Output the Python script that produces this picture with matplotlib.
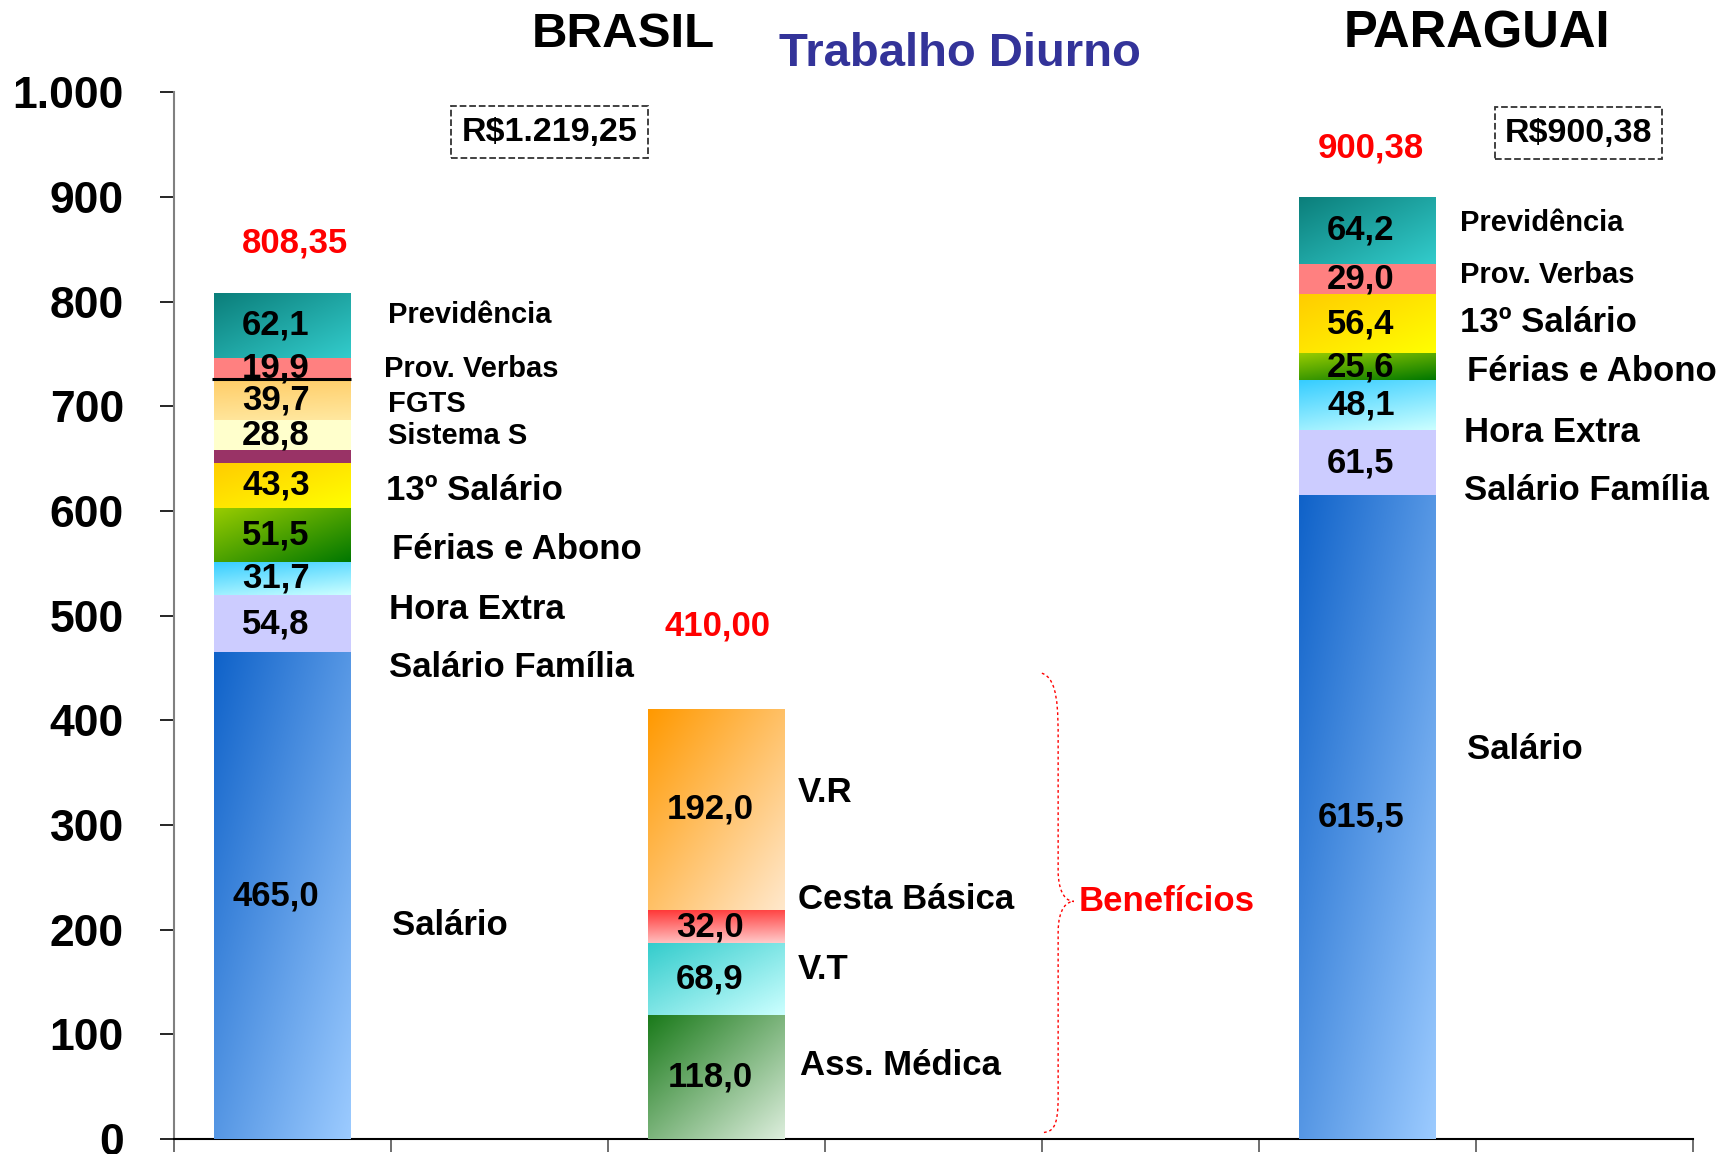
import numpy as np
import matplotlib
matplotlib.use('Agg')
import matplotlib.pyplot as plt
from matplotlib.path import Path
from matplotlib.patches import PathPatch
from matplotlib.colors import to_rgb
from matplotlib.ticker import FuncFormatter

plt.rcParams['font.family'] = ['Liberation Sans', 'DejaVu Sans']

# ---- data ----
brasil_items = ['Salário', 'Salário Família', 'Hora Extra', 'Férias e Abono', '13º Salário',
                '', 'Sistema S', 'FGTS', 'Prov. Verbas', 'Previdência']
brasil_values = [465.0, 54.8, 31.7, 51.5, 43.3, 11.55, 28.8, 39.7, 19.9, 62.1]
brasil_total = '808,35'
brasil_box = 'R$1.219,25'

benef_items = ['Ass. Médica', 'V.T', 'Cesta Básica', 'V.R']
benef_values = [118.0, 68.9, 32.0, 192.0]
benef_total = '410,00'

paraguai_items = ['Salário', 'Salário Família', 'Hora Extra', 'Férias e Abono', '13º Salário',
                  'Prov. Verbas', 'Previdência']
paraguai_values = [615.5, 61.5, 48.1, 25.6, 56.4, 29.0, 64.2]
paraguai_total = '900,38'
paraguai_box = 'R$900,38'

yticks = [0, 100, 200, 300, 400, 500, 600, 700, 800, 900, 1000]

# ---- styles: (start colour, end colour, gradient weights (horizontal, vertical)) ----
brasil_style = [('#0F62C9', '#9CCBFF', (0.5, 0.5)),
                ('#CCCCFF', None, None),
                ('#33CCFF', '#CCFFFF', (0.3, 0.7)),
                ('#99CC00', '#007700', (0.5, 0.5)),
                ('#FFCC00', '#FFFF00', (0.5, 0.5)),
                ('#993366', None, None),
                ('#FFFFCC', None, None),
                ('#FFCC66', '#FFE8A0', (0.1, 0.9)),
                ('#FF8080', None, None),
                ('#0B7E7A', '#33CCCC', (0.5, 0.5))]
benef_style = [('#1A7A1A', '#DDEEDD', (0.5, 0.5)),
               ('#33CCCC', '#CCFFFF', (0.5, 0.5)),
               ('#FF3333', '#FFCCCC', (0.1, 0.9)),
               ('#FF9900', '#FFE8CC', (0.5, 0.5))]
paraguai_style = [('#0F62C9', '#9CCBFF', (0.5, 0.5)),
                  ('#CCCCFF', None, None),
                  ('#33CCFF', '#CCFFFF', (0.3, 0.7)),
                  ('#99CC00', '#007700', (0.4, 0.6)),
                  ('#FFCC00', '#FFFF00', (0.5, 0.5)),
                  ('#FF8080', None, None),
                  ('#0B7E7A', '#33CCCC', (0.5, 0.5))]

# label placement (x, y, fontsize)
brasil_lab = [(0.505, 204, 25), (0.49, 450, 25), (0.49, 506, 25), (0.505, 563, 25),
              (0.475, 620, 25), None, (0.485, 672, 21), (0.485, 702, 21), (0.47, 736, 21),
              (0.485, 787, 21)]
benef_lab = [(2.385, 70, 25), (2.375, 162, 25), (2.375, 229, 25), (2.375, 331, 25)]
paraguai_lab = [(5.46, 372, 25), (5.445, 620, 25), (5.445, 675, 25), (5.46, 733, 25),
                (5.425, 780, 25), (5.425, 825, 21), (5.425, 875, 21)]

bar_w = 0.63


def gradient_bar(ax, x, bottom, height, style):
    c1, c2, w = style
    rect = ax.bar(x, height, bar_w, bottom=bottom, color=c1, lw=0, zorder=2)[0]
    if c2 is None:
        return
    u = np.linspace(0, 1, 120)
    uu, vv = np.meshgrid(u, u)
    t = w[0] * uu + w[1] * vv
    a = np.array(to_rgb(c1))
    b = np.array(to_rgb(c2))
    img = a + t[..., None] * (b - a)
    im = ax.imshow(img, extent=(x - bar_w / 2, x + bar_w / 2, bottom, bottom + height),
                   origin='upper', aspect='auto', zorder=3, interpolation='bilinear')
    im.set_clip_path(rect)


def fmt(v):
    return f'{v:.1f}'.replace('.', ',')


def stack(ax, x, items, values, styles, labs):
    bottom = 0
    for name, v, st, lab in zip(items, values, styles, labs):
        gradient_bar(ax, x, bottom, v, st)
        if name:
            ax.text(x - 0.03, bottom + v / 2, fmt(v), ha='center', va='center',
                    fontsize=25, fontweight='bold', zorder=5)
        if lab is not None:
            ax.text(lab[0], lab[1], name, ha='left', va='center', fontsize=lab[2],
                    fontweight='bold', zorder=5)
        bottom += v


fig = plt.figure(figsize=(17.24, 11.54), dpi=100)
ax = fig.add_axes([0.1009, 0.013, 0.8810, 0.907])

stack(ax, 0, brasil_items, brasil_values, brasil_style, brasil_lab)
stack(ax, 2, benef_items, benef_values, benef_style, benef_lab)
stack(ax, 5, paraguai_items, paraguai_values, paraguai_style, paraguai_lab)

# black line on top of FGTS segment
fgts_top = sum(brasil_values[:8])
ax.hlines(fgts_top, -0.325, 0.315, color='black', lw=2.2, zorder=4)

# totals
ax.text(0.057, 856, brasil_total, color='red', fontsize=25, fontweight='bold', ha='center', va='center')
ax.text(2.007, 490, benef_total, color='red', fontsize=25, fontweight='bold', ha='center', va='center')
ax.text(5.017, 947, paraguai_total, color='red', fontsize=25, fontweight='bold', ha='center', va='center')

# boxes
box = dict(boxstyle='square,pad=0.3', fc='white', ec='#333333', ls='--', lw=1.3)
ax.text(1.231, 962, brasil_box, fontsize=24.5, fontweight='bold', ha='center', va='center', bbox=box)
ax.text(5.973, 961, paraguai_box, fontsize=24.5, fontweight='bold', ha='center', va='center', bbox=box)

# brace for Benefícios
tip_y = 227
verts = [(3.50, 445), (3.575, 440), (3.575, 410), (3.575, 380),
         (3.575, tip_y + 30),
         (3.575, tip_y + 5), (3.62, tip_y), (3.648, tip_y),
         (3.62, tip_y), (3.575, tip_y - 5), (3.575, tip_y - 30),
         (3.575, 40),
         (3.575, 10), (3.55, 7), (3.50, 6)]
codes = [Path.MOVETO, Path.CURVE4, Path.CURVE4, Path.CURVE4,
         Path.LINETO,
         Path.CURVE4, Path.CURVE4, Path.CURVE4,
         Path.CURVE4, Path.CURVE4, Path.CURVE4,
         Path.LINETO,
         Path.CURVE4, Path.CURVE4, Path.CURVE4]
ax.add_patch(PathPatch(Path(verts, codes), fc='none', ec='red', lw=1.0, ls=(0, (2, 2)), zorder=4))
ax.text(3.67, tip_y, 'Benefícios', color='red', fontsize=25, fontweight='bold', ha='left', va='center')

# titles
fig.text(0.3614, 0.9705, 'BRASIL', fontsize=35.5, fontweight='bold', ha='center', va='center')
fig.text(0.5568, 0.953, 'Trabalho Diurno', fontsize=34, fontweight='bold', color='#333399',
         ha='center', va='center')
fig.text(0.8567, 0.9705, 'PARAGUAI', fontsize=36.5, fontweight='bold', ha='center', va='center')

# axes
ax.set_xlim(-0.5, 6.5)
ax.set_ylim(0, 1000)
ax.set_yticks(yticks)
ax.yaxis.set_major_formatter(FuncFormatter(lambda v, p: f'{int(v):,}'.replace(',', '.')))
ax.tick_params(axis='y', length=10, width=1.2, pad=26, labelsize=32, color='black')
for lbl in ax.get_yticklabels():
    lbl.set_fontweight('bold')
ax.set_xticks(np.arange(-0.5, 7, 1))
ax.set_xticklabels([])
ax.tick_params(axis='x', length=9, width=1.2, color='#555555')
ax.spines['top'].set_visible(False)
ax.spines['right'].set_visible(False)
ax.spines['left'].set_color('#808080')
ax.spines['left'].set_linewidth(1.5)
ax.spines['bottom'].set_linewidth(1.5)

fig.savefig('out.png', dpi=100)
